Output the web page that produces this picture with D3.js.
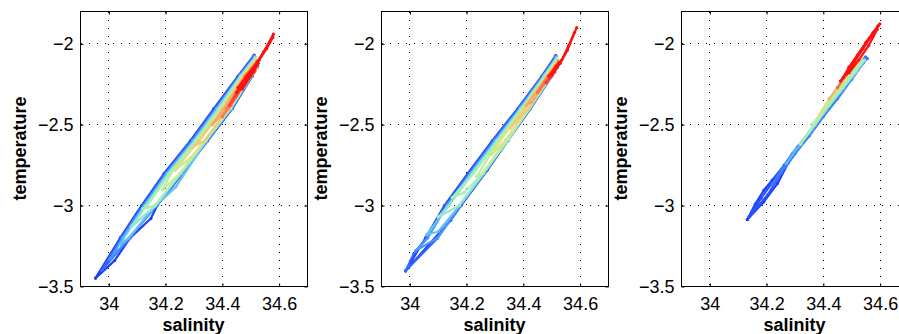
<!DOCTYPE html>
<html>
<head>
<meta charset="utf-8">
<script src="https://cdn.jsdelivr.net/npm/d3@7"></script>
<style>
body{margin:0;background:#fff;}
text{font-family:"Liberation Sans",Arial,Helvetica,sans-serif;}
</style>
</head>
<body>
<div id="chart"></div>
<script>
// axis limits and ticks
var salinityRange=[33.9,34.7];
var temperatureRange=[-3.5,-1.8];
var salinityTicks=[34,34.2,34.4,34.6];
var temperatureTicks=[-3.5,-3,-2.5,-2];

// panel 1 : casts as [salinity, temperature] points, castTime1 = colour index (0 early .. 1 late)
var castTime1=[0,0.1,0.2,0.3,0.4,0.48,0.56,0.64,0.72,0.8,0.87,0.94,1,1,1];
var casts1=[
  [[33.953,-3.448],[34.040,-3.2],[34.115,-3.0],[34.195,-2.8],[34.287,-2.6],[34.370,-2.4],[34.455,-2.2],[34.512,-2.07],[34.524,-2.14],[34.505,-2.2],[34.435,-2.4],[34.348,-2.6],[34.260,-2.8],[34.170,-3.0],[34.148,-3.08],[34.075,-3.2],[34.020,-3.34],[33.953,-3.448]],
  [[33.975,-3.40],[34.044,-3.2],[34.119,-3.0],[34.199,-2.8],[34.291,-2.6],[34.374,-2.4],[34.458,-2.2],[34.513,-2.074],[34.523,-2.143],[34.504,-2.2],[34.434,-2.4],[34.346,-2.6],[34.258,-2.8],[34.168,-3.0],[34.073,-3.2],[33.975,-3.40]],
  [[34.005,-3.33],[34.048,-3.2],[34.123,-3.0],[34.203,-2.8],[34.295,-2.6],[34.378,-2.4],[34.460,-2.2],[34.514,-2.078],[34.522,-2.146],[34.503,-2.2],[34.432,-2.4],[34.345,-2.6],[34.257,-2.8],[34.167,-3.0],[34.135,-3.06],[34.072,-3.2],[34.005,-3.33]],
  [[34.040,-3.24],[34.052,-3.2],[34.127,-3.0],[34.207,-2.8],[34.299,-2.6],[34.382,-2.4],[34.463,-2.2],[34.515,-2.082],[34.521,-2.149],[34.502,-2.2],[34.430,-2.4],[34.343,-2.6],[34.236,-2.884],[34.165,-3.0],[34.070,-3.2],[34.040,-3.24]],
  [[34.080,-3.13],[34.131,-3.0],[34.211,-2.8],[34.303,-2.6],[34.386,-2.4],[34.465,-2.2],[34.516,-2.086],[34.520,-2.152],[34.501,-2.2],[34.429,-2.4],[34.342,-2.6],[34.254,-2.8],[34.164,-3.0],[34.080,-3.13]],
  [[34.120,-3.02],[34.135,-3.0],[34.215,-2.8],[34.307,-2.6],[34.390,-2.4],[34.468,-2.2],[34.517,-2.09],[34.519,-2.155],[34.500,-2.2],[34.427,-2.4],[34.340,-2.6],[34.252,-2.8],[34.162,-3.0],[34.120,-3.02]],
  [[34.190,-2.90],[34.219,-2.8],[34.311,-2.6],[34.394,-2.4],[34.470,-2.2],[34.518,-2.094],[34.518,-2.158],[34.499,-2.2],[34.426,-2.4],[34.339,-2.6],[34.251,-2.8],[34.190,-2.90]],
  [[34.235,-2.78],[34.315,-2.6],[34.398,-2.4],[34.473,-2.2],[34.519,-2.098],[34.517,-2.161],[34.498,-2.2],[34.424,-2.4],[34.337,-2.6],[34.290,-2.7],[34.235,-2.78]],
  [[34.295,-2.64],[34.319,-2.6],[34.402,-2.4],[34.475,-2.2],[34.520,-2.102],[34.516,-2.164],[34.497,-2.2],[34.423,-2.4],[34.336,-2.6],[34.295,-2.64]],
  [[34.365,-2.50],[34.406,-2.4],[34.478,-2.2],[34.521,-2.106],[34.515,-2.167],[34.496,-2.2],[34.420,-2.4],[34.365,-2.50]],
  [[34.400,-2.45],[34.415,-2.4],[34.480,-2.2],[34.522,-2.11],[34.514,-2.17],[34.495,-2.2],[34.430,-2.38],[34.400,-2.45]],
  [[34.425,-2.38],[34.483,-2.2],[34.523,-2.114],[34.513,-2.173],[34.494,-2.2],[34.450,-2.32],[34.425,-2.38]],
  [[34.455,-2.27],[34.490,-2.19],[34.524,-2.11],[34.545,-2.05],[34.580,-1.94]],
  [[34.450,-2.30],[34.475,-2.25],[34.505,-2.17],[34.530,-2.10],[34.556,-2.03],[34.578,-1.96]],
  [[34.470,-2.28],[34.500,-2.20],[34.527,-2.12]]
];

// panel 2
var castTime2=[0,0.1,0.2,0.3,0.4,0.48,0.56,0.64,0.72,0.8,0.88,0.95,1,1];
var casts2=[
  [[33.985,-3.403],[34.055,-3.2],[34.122,-3.0],[34.205,-2.8],[34.290,-2.6],[34.380,-2.4],[34.465,-2.2],[34.514,-2.072],[34.520,-2.144],[34.500,-2.2],[34.425,-2.4],[34.345,-2.6],[34.273,-2.78],[34.180,-3.0],[34.144,-3.09],[33.985,-3.403]],
  [[33.985,-3.403],[34.014,-3.296],[34.059,-3.2],[34.126,-3.0],[34.209,-2.8],[34.294,-2.6],[34.383,-2.4],[34.467,-2.2],[34.515,-2.076],[34.519,-2.147],[34.499,-2.2],[34.424,-2.4],[34.343,-2.6],[34.263,-2.8],[34.178,-3.0],[34.098,-3.2],[33.985,-3.403]],
  [[34.020,-3.28],[34.063,-3.2],[34.130,-3.0],[34.213,-2.8],[34.298,-2.6],[34.386,-2.4],[34.469,-2.2],[34.516,-2.08],[34.518,-2.15],[34.498,-2.2],[34.423,-2.4],[34.342,-2.6],[34.262,-2.8],[34.177,-3.0],[34.097,-3.2],[34.020,-3.28]],
  [[34.060,-3.18],[34.134,-3.0],[34.217,-2.8],[34.302,-2.6],[34.389,-2.4],[34.472,-2.2],[34.517,-2.084],[34.517,-2.153],[34.498,-2.2],[34.422,-2.4],[34.340,-2.6],[34.260,-2.8],[34.175,-3.0],[34.100,-3.16],[34.060,-3.18]],
  [[34.100,-3.07],[34.138,-3.0],[34.221,-2.8],[34.306,-2.6],[34.392,-2.4],[34.474,-2.2],[34.518,-2.088],[34.516,-2.156],[34.497,-2.2],[34.421,-2.4],[34.339,-2.6],[34.259,-2.8],[34.174,-3.0],[34.100,-3.07]],
  [[34.150,-2.95],[34.225,-2.8],[34.310,-2.6],[34.395,-2.4],[34.476,-2.2],[34.519,-2.092],[34.515,-2.159],[34.496,-2.2],[34.420,-2.4],[34.350,-2.586],[34.258,-2.8],[34.190,-2.92],[34.150,-2.95]],
  [[34.235,-2.82],[34.314,-2.6],[34.398,-2.4],[34.478,-2.2],[34.520,-2.096],[34.514,-2.162],[34.495,-2.2],[34.419,-2.4],[34.336,-2.6],[34.256,-2.8],[34.235,-2.82]],
  [[34.290,-2.68],[34.318,-2.6],[34.401,-2.4],[34.480,-2.2],[34.521,-2.1],[34.513,-2.165],[34.494,-2.2],[34.418,-2.4],[34.335,-2.6],[34.290,-2.68]],
  [[34.355,-2.52],[34.404,-2.4],[34.483,-2.2],[34.522,-2.104],[34.512,-2.168],[34.494,-2.2],[34.417,-2.4],[34.355,-2.52]],
  [[34.410,-2.38],[34.485,-2.2],[34.523,-2.108],[34.511,-2.17],[34.493,-2.2],[34.430,-2.36],[34.410,-2.38]],
  [[34.450,-2.30],[34.487,-2.2],[34.524,-2.112],[34.510,-2.172],[34.492,-2.2],[34.460,-2.28],[34.450,-2.30]],
  [[34.480,-2.24],[34.500,-2.19],[34.525,-2.115],[34.510,-2.175],[34.495,-2.21],[34.480,-2.24]],
  [[34.490,-2.20],[34.515,-2.14],[34.535,-2.10],[34.560,-2.01],[34.588,-1.90]],
  [[34.500,-2.19],[34.530,-2.12],[34.555,-2.04],[34.580,-1.93]]
];

// panel 3
var castTime3=[0,0.05,0.14,0.28,0.45,0.55,0.66,0.78,0.9,1,1,1,1];
var casts3=[
  [[34.132,-3.086],[34.160,-2.99],[34.190,-2.905],[34.220,-2.843],[34.262,-2.75],[34.308,-2.638],[34.335,-2.59],[34.318,-2.63],[34.275,-2.74],[34.238,-2.864],[34.190,-2.977],[34.132,-3.086]],
  [[34.138,-3.07],[34.180,-2.955],[34.215,-2.87],[34.255,-2.78],[34.300,-2.67],[34.350,-2.56],[34.330,-2.60],[34.290,-2.70],[34.250,-2.80],[34.205,-2.93],[34.138,-3.07]],
  [[34.220,-2.87],[34.250,-2.80],[34.300,-2.68],[34.350,-2.57],[34.400,-2.45],[34.450,-2.34],[34.500,-2.22],[34.540,-2.12],[34.555,-2.09],[34.548,-2.08],[34.530,-2.12],[34.490,-2.22],[34.440,-2.34],[34.390,-2.45],[34.340,-2.57],[34.290,-2.68],[34.250,-2.78],[34.220,-2.87]],
  [[34.270,-2.74],[34.310,-2.64],[34.360,-2.53],[34.410,-2.41],[34.460,-2.30],[34.510,-2.19],[34.545,-2.10],[34.540,-2.10],[34.500,-2.19],[34.450,-2.31],[34.400,-2.43],[34.350,-2.55],[34.300,-2.66],[34.270,-2.74]],
  [[34.320,-2.62],[34.370,-2.50],[34.420,-2.38],[34.470,-2.27],[34.515,-2.17],[34.545,-2.10],[34.535,-2.11],[34.500,-2.19],[34.450,-2.30],[34.400,-2.42],[34.350,-2.54],[34.320,-2.62]],
  [[34.360,-2.50],[34.400,-2.41],[34.450,-2.29],[34.500,-2.18],[34.535,-2.105],[34.525,-2.12],[34.480,-2.22],[34.430,-2.34],[34.380,-2.46],[34.360,-2.50]],
  [[34.385,-2.44],[34.410,-2.37],[34.440,-2.30],[34.470,-2.23],[34.490,-2.18]],
  [[34.420,-2.34],[34.450,-2.27],[34.480,-2.20],[34.503,-2.133]],
  [[34.450,-2.27],[34.480,-2.19],[34.510,-2.12]],
  [[34.470,-2.21],[34.490,-2.144],[34.520,-2.07],[34.550,-1.99],[34.575,-1.93],[34.599,-1.876]],
  [[34.480,-2.19],[34.510,-2.11],[34.540,-2.03],[34.570,-1.95],[34.595,-1.885]],
  [[34.490,-2.18],[34.525,-2.10],[34.560,-2.01],[34.590,-1.91]],
  [[34.460,-2.23],[34.500,-2.13],[34.530,-2.05],[34.565,-1.96],[34.592,-1.89]]
];

// jet-like colour map
var jetPos=[0,0.15,0.3,0.42,0.55,0.68,0.8,0.9,1];
var jetColors=["#1f3dff","#3d80ff","#62c0f5","#9cefc0","#b8f0a0","#e8dc80","#f5a868","#f56a45","#ff1010"];
var jet=d3.scaleLinear().domain(jetPos).range(jetColors);

var w=899,h=334;
var plotW=227,plotH=275,plotTop=11;
var lefts=[80,381,681];
var panels=[[casts1,castTime1],[casts2,castTime2],[casts3,castTime3]];

var svg=d3.select("#chart").append("svg").attr("width",w).attr("height",h);
var x=d3.scaleLinear().domain(salinityRange).range([0,plotW]);
var y=d3.scaleLinear().domain(temperatureRange).range([plotH,0]);
var line=d3.line().x(function(d){return x(d[0]);}).y(function(d){return y(d[1]);});
var fmt=function(d){return (d<0?"\u2212":"")+Math.abs(d);};

panels.forEach(function(p,pi){
  var g=svg.append("g").attr("transform","translate("+(lefts[pi]+0.5)+","+(plotTop+0.5)+")");

  // dotted grid
  g.selectAll(".gx").data(salinityTicks).enter().append("line")
    .attr("x1",function(d){return Math.round(x(d));}).attr("x2",function(d){return Math.round(x(d));})
    .attr("y1",0).attr("y2",plotH)
    .attr("stroke","#000").attr("stroke-dasharray","1,7").attr("shape-rendering","crispEdges");
  g.selectAll(".gy").data(temperatureTicks).enter().append("line")
    .attr("y1",function(d){return Math.round(y(d));}).attr("y2",function(d){return Math.round(y(d));})
    .attr("x1",0).attr("x2",plotW)
    .attr("stroke","#000").attr("stroke-dasharray","1,7").attr("shape-rendering","crispEdges");

  // casts
  var casts=p[0],times=p[1];
  casts.forEach(function(c,i){
    var col=jet(times[i]);
    g.append("path").datum(c).attr("d",line)
      .attr("fill","none").attr("stroke",col).attr("stroke-width",2.2)
      .attr("stroke-linejoin","round");
    g.selectAll(null).data(c).enter().append("circle")
      .attr("cx",function(d){return x(d[0]);}).attr("cy",function(d){return y(d[1]);})
      .attr("r",1.6).attr("fill",col);
  });

  // axes
  g.append("g").attr("transform","translate(0,"+plotH+")")
    .call(d3.axisBottom(x).tickValues(salinityTicks).tickFormat(fmt).tickSizeInner(-3).tickSizeOuter(0).tickPadding(11));
  g.append("g")
    .call(d3.axisLeft(y).tickValues(temperatureTicks).tickFormat(fmt).tickSizeInner(-3).tickSizeOuter(0).tickPadding(7));
  g.append("g").call(d3.axisTop(x).tickValues(salinityTicks).tickFormat("").tickSizeInner(-3).tickSizeOuter(0));
  g.append("g").attr("transform","translate("+plotW+",0)")
    .call(d3.axisRight(y).tickValues(temperatureTicks).tickFormat("").tickSizeInner(-3).tickSizeOuter(0));
  g.selectAll(".domain").remove();
  g.selectAll(".tick line").attr("stroke","#000");
  g.selectAll(".tick text").attr("font-size",18).attr("fill","#000")
    .style("font-family","'Liberation Sans',Arial,sans-serif");

  g.append("rect").attr("x",0).attr("y",0).attr("width",plotW).attr("height",plotH)
    .attr("fill","none").attr("stroke","#000").attr("stroke-width",1).attr("shape-rendering","crispEdges");

  svg.append("text").attr("x",lefts[pi]+plotW/2).attr("y",331)
    .attr("text-anchor","middle").attr("font-size",18).attr("font-weight","bold").text("salinity");
  svg.append("text").attr("transform","translate("+(lefts[pi]-54)+","+(plotTop+plotH/2)+") rotate(-90)")
    .attr("text-anchor","middle").attr("font-size",18).attr("font-weight","bold").text("temperature");
});
</script>
</body>
</html>
